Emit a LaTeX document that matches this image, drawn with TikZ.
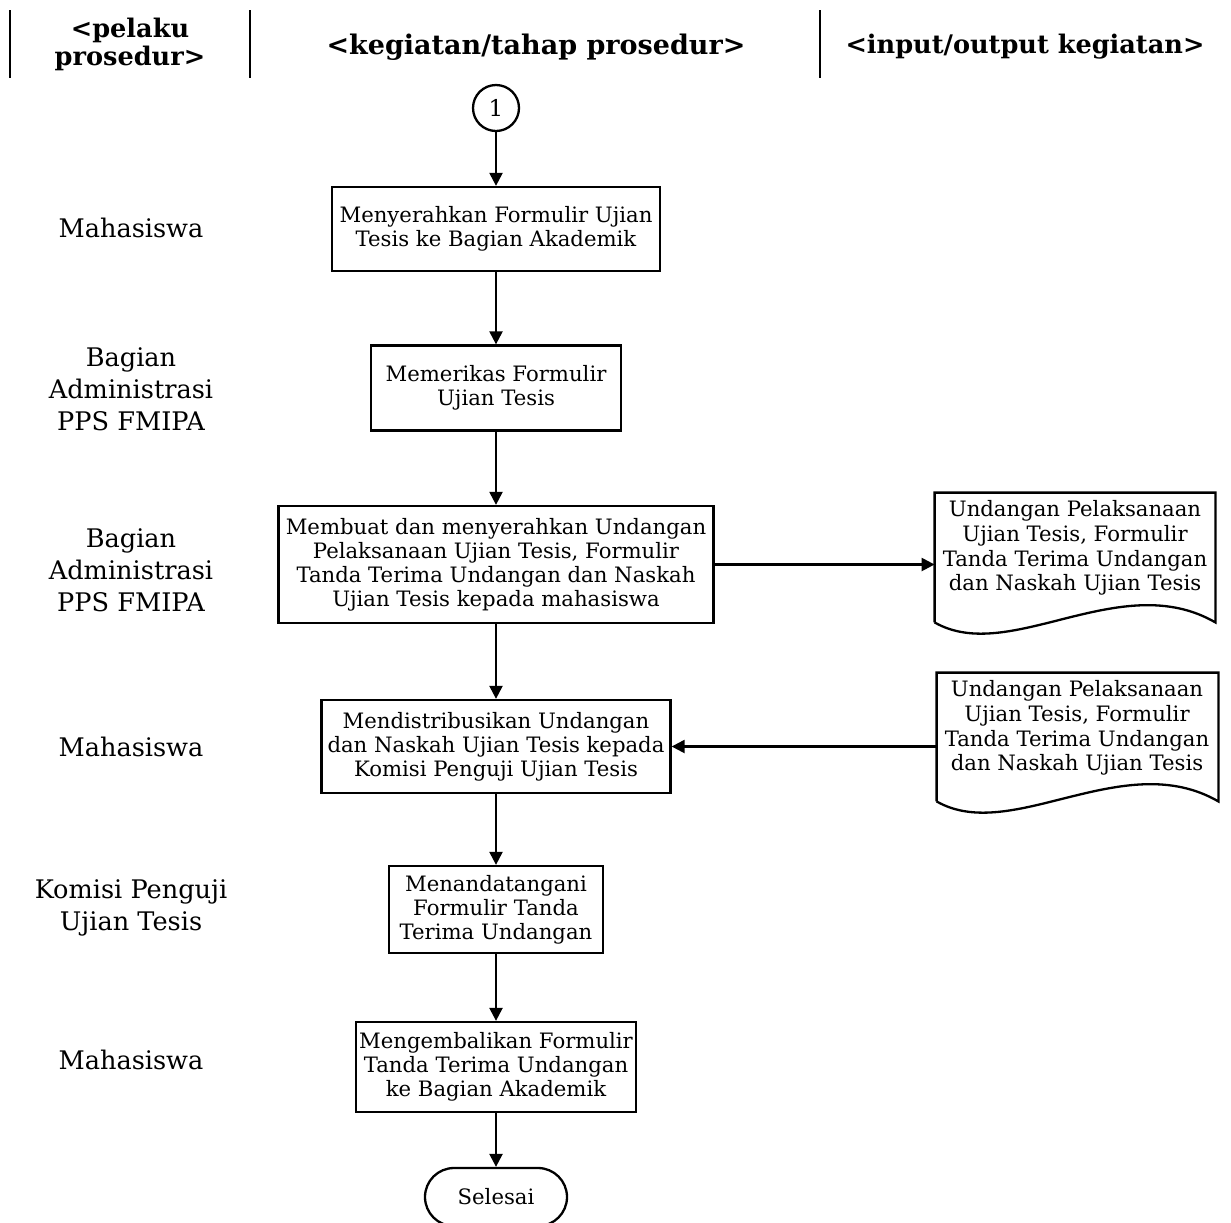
\documentclass[tikz,border=0pt]{standalone}
\usepackage{fontspec}
\setmainfont{DejaVu Serif}
\usetikzlibrary{arrows.meta}
\begin{document}
\begin{tikzpicture}[x=0.5pt,y=-0.5pt,
  proc/.style={draw,line width=1.15pt,inner sep=0pt,align=center,font=\fontsize{10.6}{12}\selectfont},
  doctext/.style={inner sep=0pt,align=center,font=\fontsize{10.6}{12.3}\selectfont},
  docframe/.style={inner sep=0pt},
  docline/.style={line width=1.15pt},
  lane/.style={align=center,font=\fontsize{12.8}{16}\selectfont},
  head/.style={align=center,font=\bfseries\fontsize{12.8}{14}\selectfont},
  sepline/.style={line width=1.1pt},
  arr/.style={-{Triangle[length=6.5pt,width=6.5pt]},line width=1.15pt}]
\useasboundingbox (0,0) rectangle (1231,1222);
% header
\draw[sepline] (10,10) -- (10,78);
\draw[sepline] (250,10) -- (250,78);
\draw[sepline] (820,10) -- (820,78);
\node[head] (h1) at (130,44) {<pelaku\\prosedur>};
\node[head,font=\bfseries\fontsize{13.5}{14}\selectfont] (h2) at (536,47) {<kegiatan/tahap prosedur>};
\node[head] (h3) at (1025,47) {<input/output kegiatan>};
% lanes
\node[lane] (l1) at (131,228) {Mahasiswa};
\node[lane] (l2) at (131,389) {Bagian\\Administrasi\\PPS FMIPA};
\node[lane] (l3) at (131,570) {Bagian\\Administrasi\\PPS FMIPA};
\node[lane] (l4) at (131,747) {Mahasiswa};
\node[lane] (l5) at (131,908) {Komisi Penguji\\Ujian Tesis};
\node[lane] (l6) at (131,1060) {Mahasiswa};
% flow
\node[draw,circle,line width=1.15pt,minimum size=23pt,inner sep=0pt,font=\fontsize{11.5}{12}\selectfont] (c1) at (496,108) {1};
\node[proc,minimum width=164pt,minimum height=42pt] (b1) at (496,229) {Menyerahkan Formulir Ujian\\Tesis ke Bagian Akademik};
\node[proc,minimum width=125pt,minimum height=42.5pt] (b2) at (496,388) {Memerikas Formulir\\Ujian Tesis};
\node[proc,minimum width=217.5pt,minimum height=58.5pt] (b3) at (496,564.5) {Membuat dan menyerahkan Undangan\\Pelaksanaan Ujian Tesis, Formulir\\Tanda Terima Undangan dan Naskah\\Ujian Tesis kepada mahasiswa};
\node[proc,minimum width=174.5pt,minimum height=46.5pt] (b4) at (496,746.5) {Mendistribusikan Undangan\\dan Naskah Ujian Tesis kepada\\Komisi Penguji Ujian Tesis};
\node[proc,minimum width=107pt,minimum height=43.5pt] (b5) at (496,909.5) {Menandatangani\\Formulir Tanda\\Terima Undangan};
\node[proc,minimum width=140pt,minimum height=45pt] (b6) at (496,1067) {Mengembalikan Formulir\\Tanda Terima Undangan\\ke Bagian Akademik};
\node[draw,line width=1.15pt,minimum width=71pt,minimum height=29pt,rounded corners=14.5pt,inner sep=0pt,font=\fontsize{10.6}{12}\selectfont] (end) at (496,1197) {Selesai};
% documents
\node[docframe,minimum width=140pt,minimum height=64.5pt] (d1) at (1075,557.5) {};
\draw[docline] (d1.south west) -- (d1.north west) -- (d1.north east) -- (d1.south east)
  .. controls +(-95,-55) and +(75,43) .. (d1.south west);
\node[doctext] (t1) at (1075,548) {Undangan Pelaksanaan\\Ujian Tesis, Formulir\\Tanda Terima Undangan\\dan Naskah Ujian Tesis};
\node[docframe,minimum width=140.5pt,minimum height=64pt] (d2) at (1077.5,737) {};
\draw[docline] (d2.south west) -- (d2.north west) -- (d2.north east) -- (d2.south east)
  .. controls +(-95,-55) and +(75,43) .. (d2.south west);
\node[doctext] (t2) at (1077,728) {Undangan Pelaksanaan\\Ujian Tesis, Formulir\\Tanda Terima Undangan\\dan Naskah Ujian Tesis};
% connectors
\draw[arr] (c1) -- (b1);
\draw[arr] (b1) -- (b2);
\draw[arr] (b2) -- (b3);
\draw[arr] (b3) -- (b4);
\draw[arr] (b4) -- (b5);
\draw[arr] (b5) -- (b6);
\draw[arr] (b6) -- (end);
\draw[arr] (b3.east) -- (b3.east -| d1.west);
\draw[arr] (d2.west |- b4.east) -- (b4.east);
\end{tikzpicture}
\end{document}
